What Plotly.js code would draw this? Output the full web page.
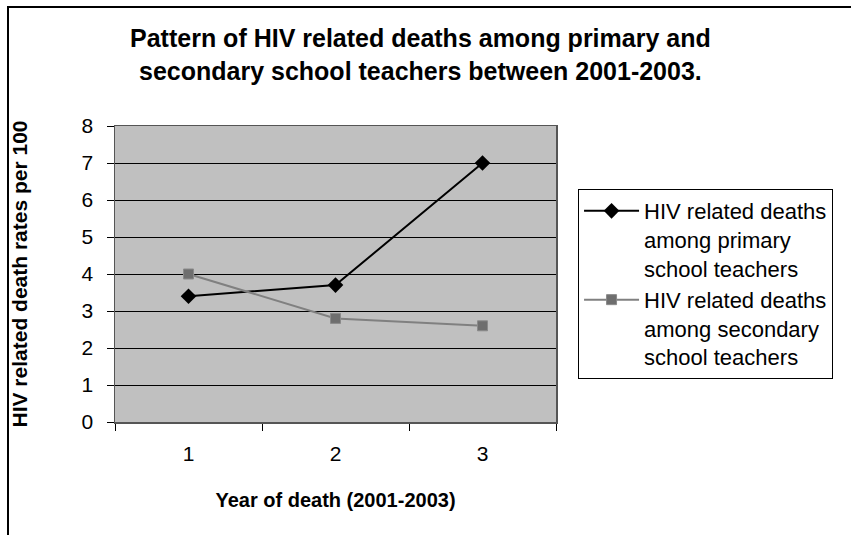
<!DOCTYPE html>
<html>
<head>
<meta charset="utf-8">
<script src="https://cdn.plot.ly/plotly-3.0.1.min.js"></script>
<style>
html,body{margin:0;padding:0;background:#fff;overflow:hidden;}
#frame{position:absolute;left:7px;top:6px;width:1000px;height:1000px;border:2px solid #000;box-sizing:border-box;}
#chart{position:absolute;left:0;top:0;width:851px;height:535px;}
</style>
</head>
<body>
<div id="frame"></div>
<div id="chart"></div>
<script>
const years = ['1', '2', '3'];
const primaryDeaths = [3.4, 3.7, 7.0];
const secondaryDeaths = [4.0, 2.8, 2.6];
const seriesNames = [
  'HIV related deaths<br>among primary<br>school teachers',
  'HIV related deaths<br>among secondary<br>school teachers'
];
const titleText = 'Pattern of HIV related deaths among primary and<br>secondary school teachers between 2001-2003.';
const xTitle = 'Year of death (2001-2003)';
const yTitle = 'HIV related death rates per 100';

const font = 'Liberation Sans, Arial, sans-serif';

const traces = [
  {
    x: years, y: primaryDeaths, name: seriesNames[0], type: 'scatter', mode: 'lines+markers',
    line: {color: '#000000', width: 2},
    marker: {symbol: 'diamond', size: 12, color: '#000000'}
  },
  {
    x: years, y: secondaryDeaths, name: seriesNames[1], type: 'scatter', mode: 'lines+markers',
    line: {color: '#808080', width: 2},
    marker: {symbol: 'square', size: 10, color: '#6e6e6e', line: {color: '#8a8a8a', width: 1}}
  }
];

const layout = {
  width: 851, height: 535,
  paper_bgcolor: 'rgba(0,0,0,0)',
  plot_bgcolor: '#c0c0c0',
  margin: {l: 115, r: 295, t: 126, b: 113, autoexpand: false},
  font: {family: font, color: '#000'},
  title: {
    text: '<b>' + titleText + '</b>',
    font: {family: font, size: 25, color: '#000'},
    x: 0.494, xanchor: 'center', y: 0.912, yanchor: 'middle'
  },
  xaxis: {
    type: 'category',
    range: [-0.5, 2.5],
    tickson: 'boundaries',
    ticks: 'outside', ticklen: 7, tickcolor: '#000', tickwidth: 1,
    ticklabelstandoff: 12,
    showgrid: false,
    showline: true, linecolor: '#555', linewidth: 1.5, mirror: true,
    tickfont: {family: font, size: 21, color: '#000'},
    title: {text: '<b>' + xTitle + '</b>', font: {family: font, size: 20, color: '#000'}, standoff: 29},
    zeroline: false
  },
  yaxis: {
    range: [0, 8], dtick: 1,
    ticks: 'outside', ticklen: 7, tickcolor: '#000', tickwidth: 1,
    ticklabelstandoff: 9,
    showgrid: true, gridcolor: '#000', gridwidth: 1,
    showline: true, linecolor: '#555', linewidth: 1.5, mirror: true,
    tickfont: {family: font, size: 21, color: '#000'},
    title: {text: '<b>' + yTitle + '</b>', font: {family: font, size: 21, color: '#000'}, standoff: 48},
    zeroline: false
  },
  legend: {
    x: 1.05, xanchor: 'left', y: 0.787, yanchor: 'top',
    bgcolor: '#fff', bordercolor: '#000', borderwidth: 1,
    font: {family: font, size: 22, color: '#000'},
    valign: 'top',
    tracegroupgap: 2, itemwidth: 55
  },
  showlegend: true
};

Plotly.newPlot('chart', traces, layout, {displayModeBar: false, staticPlot: true});
</script>
</body>
</html>
